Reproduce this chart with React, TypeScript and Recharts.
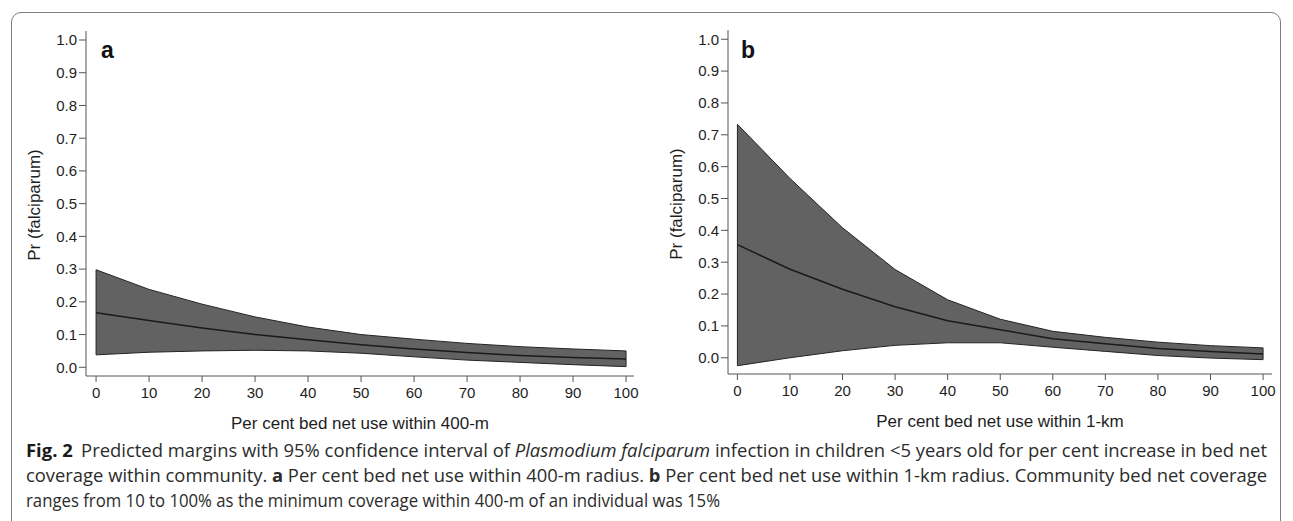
import React from 'react';
import { ComposedChart, Area, Line, XAxis, YAxis, ReferenceLine, Label } from 'recharts';

// ---- data ----
const netUse = [0, 10, 20, 30, 40, 50, 60, 70, 80, 90, 100];
const xTicks = [0, 10, 20, 30, 40, 50, 60, 70, 80, 90, 100];
const yTicks = [0, 0.1, 0.2, 0.3, 0.4, 0.5, 0.6, 0.7, 0.8, 0.9, 1.0];

// panel a: within 400-m
const aLower = [0.038, 0.046, 0.05, 0.052, 0.05, 0.043, 0.032, 0.022, 0.015, 0.008, 0.002];
const aMargin = [0.167, 0.143, 0.12, 0.1, 0.084, 0.069, 0.056, 0.045, 0.036, 0.03, 0.025];
const aUpper = [0.298, 0.238, 0.193, 0.154, 0.123, 0.1, 0.086, 0.073, 0.063, 0.056, 0.05];

// panel b: within 1-km
const bLower = [-0.025, 0.0, 0.022, 0.039, 0.047, 0.047, 0.033, 0.02, 0.007, -0.001, -0.006];
const bMargin = [0.355, 0.278, 0.215, 0.16, 0.116, 0.088, 0.06, 0.044, 0.029, 0.02, 0.012];
const bUpper = [0.733, 0.563, 0.408, 0.277, 0.182, 0.121, 0.083, 0.064, 0.049, 0.038, 0.031];

const aLetter = 'a';
const bLetter = 'b';
const aXTitle = 'Per cent bed net use within 400-m';
const bXTitle = 'Per cent bed net use within 1-km';
const yTitle = 'Pr (falciparum)';

function build(lo: number[], mid: number[], hi: number[]) {
  return netUse.map((x, i) => ({ x, lo: lo[i], mid: mid[i], hi: hi[i], band: [lo[i], hi[i]] }));
}

const FONT = '"Liberation Sans", Arial, sans-serif';
const AX = '#555555';
const FILL = '#626262';
const EDGE = '#242424';

type PanelProps = {
  lo: number[]; mid: number[]; hi: number[];
  letter: string; xTitle: string;
  width: number; height: number;
  margin: { top: number; right: number; bottom: number; left: number };
  xDomain: [number, number]; yDomain: [number, number];
  yTitleX: number; yTitleY: number;
  letterX: number; letterY: number;
};

function Panel(p: PanelProps) {
  const data = build(p.lo, p.mid, p.hi);
  const n = data.length - 1;
  return (
    <ComposedChart width={p.width} height={p.height} margin={p.margin} data={data}>
      <XAxis
        dataKey="x" type="number" domain={p.xDomain} allowDataOverflow ticks={xTicks} interval={0}
        height={30} tickSize={6} tickMargin={5}
        tick={{ fontSize: 15, fill: '#1e1e1e', fontFamily: FONT }}
        axisLine={{ stroke: AX }} tickLine={{ stroke: AX }}
      >
        <Label value={p.xTitle} position="bottom" offset={11}
          style={{ fontSize: 17, fill: '#1e1e1e', fontFamily: FONT, textAnchor: 'middle' }} />
      </XAxis>
      <YAxis
        type="number" domain={p.yDomain} allowDataOverflow ticks={yTicks} interval={0}
        width={40} tickSize={7} tickMargin={2}
        tickFormatter={(v: number) => v.toFixed(1)}
        tick={{ fontSize: 15, fill: '#1e1e1e', fontFamily: FONT }}
        axisLine={{ stroke: AX }} tickLine={{ stroke: AX }}
        label={{
          content: () => (
            <text x={p.yTitleX} y={p.yTitleY} transform={`rotate(-90 ${p.yTitleX} ${p.yTitleY})`}
              textAnchor="middle" dominantBaseline="central"
              style={{ fontSize: 17, fill: '#1e1e1e', fontFamily: FONT }}>{yTitle}</text>
          ),
        }}
      />
      <XAxis xAxisId="top" orientation="top" type="number" domain={p.xDomain} allowDataOverflow
        height={0} tick={false} tickLine={false} axisLine={{ stroke: AX }} />
      <YAxis yAxisId="right" orientation="right" type="number" domain={p.yDomain} allowDataOverflow
        width={0} tick={false} tickLine={false} axisLine={{ stroke: AX }} />
      <Area dataKey="band" type="linear" fill={FILL} fillOpacity={1} stroke={EDGE} strokeWidth={1}
        isAnimationActive={false} dot={false} activeDot={false} />
      <Line dataKey="mid" type="linear" stroke="#1a1a1a" strokeWidth={1.5} dot={false}
        isAnimationActive={false} activeDot={false} />
      <ReferenceLine segment={[{ x: data[0].x, y: data[0].lo }, { x: data[0].x, y: data[0].hi }]}
        stroke={EDGE} strokeWidth={1} />
      <ReferenceLine segment={[{ x: data[n].x, y: data[n].lo }, { x: data[n].x, y: data[n].hi }]}
        stroke={EDGE} strokeWidth={1} />
      <text x={p.letterX} y={p.letterY} style={{ fontSize: 23, fontWeight: 'bold', fill: '#111', fontFamily: FONT }}>
        {p.letter}
      </text>
    </ComposedChart>
  );
}

const CAP_FONT = '"Open Sans", "Noto Sans", sans-serif';

export default function App() {
  return (
    <div style={{ position: 'relative', width: 1277, height: 513, overflow: 'hidden', background: '#fff' }}>
      <style>{'html,body{overflow:hidden;background:#fff}'}</style>
      <div style={{
        position: 'absolute', left: 3, top: 4, width: 1270, height: 600,
        border: '1.5px solid #7d7d7d', borderRadius: 10, boxSizing: 'border-box',
      }} />
      <div style={{ position: 'absolute', left: -8, top: -8 }}>
        <Panel lo={aLower} mid={aMargin} hi={aUpper} letter={aLetter} xTitle={aXTitle}
          width={660} height={450}
          margin={{ top: 31, right: 26, bottom: 44, left: 46 }}
          xDomain={[-1.9, 101.5]} yDomain={[-0.0266, 1.0275]}
          yTitleX={34} yTitleY={205} letterX={101} letterY={58} />
      </div>
      <div style={{ position: 'absolute', left: 652, top: -8 }}>
        <Panel lo={bLower} mid={bMargin} hi={bUpper} letter={bLetter} xTitle={bXTitle}
          width={633} height={450}
          margin={{ top: 30, right: 21, bottom: 46, left: 28 }}
          xDomain={[-1.79, 101.7]} yDomain={[-0.051, 1.029]}
          yTitleX={16} yTitleY={204} letterX={81} letterY={58} />
      </div>
      <svg style={{ position: 'absolute', left: -8, top: 422 }} width={1293} height={91}>
        <g style={{ fontFamily: CAP_FONT, fontSize: 17.5, fill: '#2b2b2b' }}>
          <text x={26} y={27} textLength={1241} lengthAdjust="spacingAndGlyphs">
            <tspan fontWeight="bold" fill="#1a1a1a">Fig. 2</tspan>
            <tspan dx={8}>Predicted margins with 95% confidence interval of </tspan>
            <tspan fontStyle="italic">Plasmodium falciparum</tspan>
            <tspan> infection in children &lt;5 years old for per cent increase in bed net</tspan>
          </text>
          <text x={26} y={52} textLength={1241} lengthAdjust="spacingAndGlyphs">
            <tspan>coverage within community. </tspan>
            <tspan fontWeight="bold">a</tspan>
            <tspan> Per cent bed net use within 400-m radius. </tspan>
            <tspan fontWeight="bold">b</tspan>
            <tspan> Per cent bed net use within 1-km radius. Community bed net coverage</tspan>
          </text>
          <text x={26} y={77} textLength={694} lengthAdjust="spacingAndGlyphs">
            ranges from 10 to 100% as the minimum coverage within 400-m of an individual was 15%
          </text>
        </g>
      </svg>
    </div>
  );
}
